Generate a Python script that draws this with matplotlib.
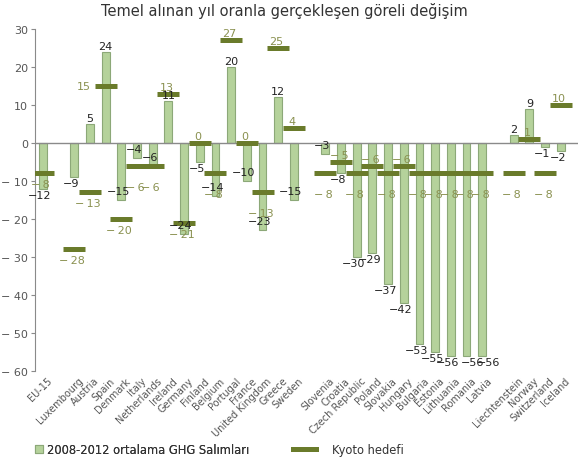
import matplotlib
matplotlib.use('Agg')
import matplotlib.pyplot as plt
from matplotlib.lines import Line2D
from matplotlib.ticker import FuncFormatter, FixedLocator
import matplotlib.transforms as mtransforms

# ---------------- data ----------------
group_eu15 = ['EU-15']
group_old = ['Luxembourg', 'Austria', 'Spain', 'Denmark', 'Italy', 'Netherlands',
             'Ireland', 'Germany', 'Finland', 'Belgium', 'Portugal', 'France',
             'United Kingdom', 'Greece', 'Sweden']
group_new = ['Slovenia', 'Croatia', 'Czech Republic', 'Poland', 'Slovakia', 'Hungary',
             'Bulgaria', 'Estonia', 'Lithuania', 'Romania', 'Latvia']
group_efta = ['Liechtenstein', 'Norway', 'Switzerland', 'Iceland']

emis_eu15 = [-12]
emis_old = [-9, 5, 24, -15, -4, -6, 11, -24, -5, -14, 20, -10, -23, 12, -15]
emis_new = [-3, -8, -30, -29, -37, -42, -53, -55, -56, -56, -56]
emis_efta = [2, 9, -1, -2]

kyoto_eu15 = [-8]
kyoto_old = [-28, -13, 15, -20, -6, -6, 13, -21, 0, -8, 27, 0, -13, 25, 4]
kyoto_new = [-8, -5, -8, -6, -8, -6, -8, -8, -8, -8, -8]
kyoto_efta = [-8, 1, -8, 10]

yticks = [30, 20, 10, 0, -10, -20, -30, -40, -50, -60]

title = 'Temel alınan yıl oranla gerçekleşen göreli değişim'
legend_bar = '2008-2012 ortalama GHG Salımları'
legend_kyoto = 'Kyoto hedefi'

# ---------------- styles ----------------
BAR_FC = '#b5d29b'
BAR_EC = '#8ca878'
KYOTO_C = '#6a7b2b'
KYOTO_TXT = '#8a9150'
TXT = '#222222'
GRAY = '#555555'

# label placement exceptions (style)
val_below = {'EU-15', 'Luxembourg', 'Finland', 'Croatia', 'Switzerland', 'Iceland'}
val_right = {'Romania', 'Latvia'}
kyoto_far = {'Italy', 'Netherlands', 'Belgium', 'United Kingdom', 'Slovenia',
             'Czech Republic', 'Slovakia', 'Bulgaria', 'Estonia', 'Lithuania',
             'Romania', 'Latvia', 'Liechtenstein', 'Switzerland'}
kyoto_above = {'Croatia', 'Poland', 'Hungary'}
kyoto_left = {'Spain'}

groups = [(group_eu15, emis_eu15, kyoto_eu15), (group_old, emis_old, kyoto_old),
          (group_new, emis_new, kyoto_new), (group_efta, emis_efta, kyoto_efta)]

names, xs, emis, kyoto = [], [], [], []
pos = 0
for g, e, k in groups:
    for n, ev, kv in zip(g, e, k):
        names.append(n); xs.append(pos); emis.append(ev); kyoto.append(kv)
        pos += 1
    pos += 1  # gap between groups

W, H = 578, 464
fig = plt.figure(figsize=(W / 100, H / 100), dpi=100)
ax = fig.add_axes([35 / W, 1 - 372 / H, 1 - 35 / W, (372 - 30) / H])

ax.bar(xs, emis, width=0.5, color=BAR_FC, edgecolor=BAR_EC, linewidth=0.8, zorder=2)
ax.axhline(0, color='#8a8a8a', lw=1.0, zorder=3)
ax.hlines(kyoto, [x - 0.7 for x in xs], [x + 0.7 for x in xs], colors=KYOTO_C,
          lw=3.6, zorder=4)

ax.set_xlim(-0.5, 34.1)
ax.set_ylim(-60, 30)

def pt(px):
    return px * 0.72

def fmt_black(v):
    return ('\u2212' + str(abs(v))) if v < 0 else str(v)

def fmt_olive(v):
    return ('\u2212\u2009' + str(abs(v))) if v < 0 else str(v)

for n, x, v, k in zip(names, xs, emis, kyoto):
    # value labels
    if v >= 0:
        ax.annotate(fmt_black(v), (x, v), xytext=(0, pt(1)), textcoords='offset points',
                    ha='center', va='bottom', fontsize=8, color=TXT, zorder=6)
    else:
        if n in val_below or v < -25:
            dy = -pt(6)
        else:
            dy = pt(9)
        dx = pt(6) if n in val_right else -pt(3)
        ax.annotate(fmt_black(v), (x, v), xytext=(dx, dy), textcoords='offset points',
                    ha='center', va='center', fontsize=8, color=TXT, zorder=6)
    # kyoto labels
    if n in kyoto_left:
        ax.annotate(fmt_olive(k), (x - 0.7, k), xytext=(-pt(4), 0), textcoords='offset points',
                    ha='right', va='center', fontsize=8, color=KYOTO_TXT, zorder=6)
    elif k >= 0 or n in kyoto_above:
        ax.annotate(fmt_olive(k), (x, k), xytext=(-pt(2), pt(7)), textcoords='offset points',
                    ha='center', va='center', fontsize=8, color=KYOTO_TXT, zorder=6)
    else:
        dy = -pt(21) if n in kyoto_far else -pt(11)
        ax.annotate(fmt_olive(k), (x, k), xytext=(-pt(2), dy), textcoords='offset points',
                    ha='center', va='center', fontsize=8, color=KYOTO_TXT, zorder=6)

# axes styling
for s in ['top', 'right', 'bottom']:
    ax.spines[s].set_visible(False)
ax.spines['left'].set_color('#8a8a8a')
ax.spines['left'].set_linewidth(0.8)
ax.yaxis.set_major_locator(FixedLocator(yticks))
ax.yaxis.set_major_formatter(FuncFormatter(lambda v, p: ('\u2212 %d' % abs(v)) if v < 0 else '%d' % v))
ax.tick_params(axis='y', length=3, width=0.8, color='#8a8a8a', labelsize=8,
               labelcolor=GRAY, pad=2)
ax.set_xticks(xs)
ax.set_xticklabels(names, rotation=45, ha='right', va='top', rotation_mode='anchor',
                   fontsize=7, color=GRAY)
ax.tick_params(axis='x', length=0, pad=3)
offset = mtransforms.ScaledTranslation(4 / 100, 0, fig.dpi_scale_trans)
for lbl in ax.get_xticklabels():
    lbl.set_transform(lbl.get_transform() + offset)

fig.text(284 / W, 1 - 11 / H, title, ha='center', va='center', fontsize=10.5, color='#333333')

h_bar = Line2D([], [], marker='s', ls='', markersize=6, markerfacecolor=BAR_FC,
               markeredgecolor=BAR_EC, markeredgewidth=0.8)
h_kyoto = Line2D([], [], color=KYOTO_C, lw=3.6)
leg_y = 1 - 451 / H
leg1 = fig.legend([h_bar], [legend_bar], loc='center left', bbox_to_anchor=(34.5 / W, leg_y),
                  frameon=False, fontsize=8.3, handlelength=0.8, handletextpad=0.3,
                  borderpad=0, borderaxespad=0, labelcolor='#333333')
leg2 = fig.legend([h_kyoto], [legend_kyoto], loc='center left', bbox_to_anchor=(293 / W, leg_y),
                  frameon=False, fontsize=8.3, handlelength=2.0, handletextpad=1.4,
                  borderpad=0, borderaxespad=0, labelcolor='#333333')
fig.add_artist(leg1)

fig.savefig('out.png', dpi=100)
